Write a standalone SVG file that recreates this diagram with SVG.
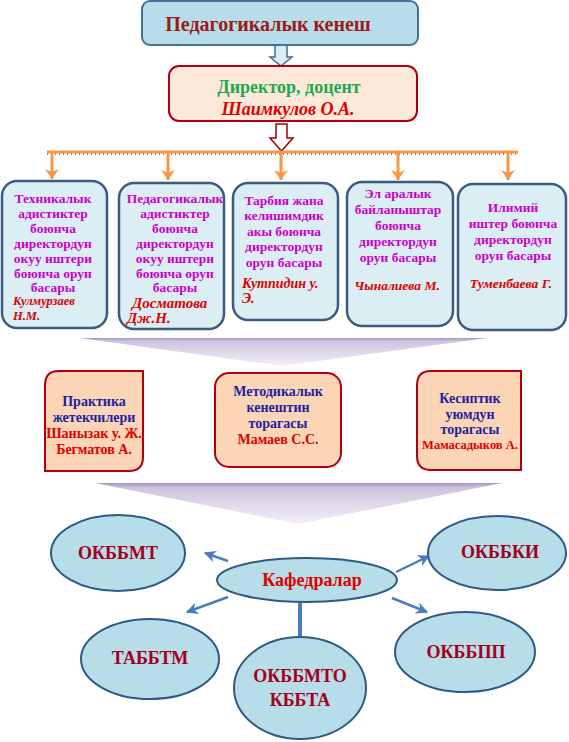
<svg xmlns="http://www.w3.org/2000/svg" width="569" height="742" viewBox="0 0 569 742">
<style>
text{font-family:"Liberation Serif","Times New Roman",serif;font-weight:bold;text-anchor:middle}
.mag{fill:#cc00cc;font-size:13.5px}
.red{fill:#e00000}
.it{font-style:italic}
.vp{fill:#dbeef4;stroke:#3d5a80;stroke-width:2.5}
.or{fill:#fbd5b5;stroke:#b00010;stroke-width:2}
.blue{fill:#1f1fa0;font-size:14px}
.ell{fill:#b7dde8;stroke:#2e5a87;stroke-width:2}
.et{fill:#a3001b;font-size:18px}
.bar{stroke:#4a7ebb;stroke-width:2.5;fill:none}
.obar{stroke:#f79646;stroke-width:3;fill:none}
</style>
<defs>
<marker id="oh" viewBox="0 0 10 14" refX="10" refY="7" markerWidth="10" markerHeight="14" markerUnits="userSpaceOnUse" orient="auto">
<path d="M0,0 L10,7 L0,14 L3,7 Z" fill="#f79646"/>
</marker>
<marker id="bh" viewBox="0 0 10 10" refX="9" refY="5" markerWidth="12" markerHeight="12" markerUnits="userSpaceOnUse" orient="auto">
<path d="M0,0 L10,5 L0,10 L3,5 Z" fill="#4a7ebb"/>
</marker>
<linearGradient id="chev" x1="0" y1="0" x2="0" y2="1">
<stop offset="0" stop-color="#a898c6"/>
<stop offset="0.12" stop-color="#cfc4e0"/>
<stop offset="1" stop-color="#f4f0f8"/>
</linearGradient>
</defs>

<g id="connectors">
<path d="M275,45 H287 V57 H292 L281,66 L270,57 H275 Z" fill="#dbeef4" stroke="#3d6fa0" stroke-width="1.5"/>
<path d="M276,124 H287 V138 H293 L281.5,151 L270,138 H276 Z" fill="#fff" stroke="#a00000" stroke-width="1.5"/>
<line x1="47" y1="154" x2="518" y2="154" stroke="#000" stroke-width="1" stroke-dasharray="1,3"/>
<line class="obar" x1="47" y1="152" x2="518" y2="152"/>
<line class="obar" x1="52" y1="152" x2="52" y2="179" marker-end="url(#oh)"/>
<line class="obar" x1="168" y1="152" x2="168" y2="180" marker-end="url(#oh)"/>
<line class="obar" x1="281" y1="152" x2="281" y2="180" marker-end="url(#oh)"/>
<line class="obar" x1="398" y1="152" x2="398" y2="180" marker-end="url(#oh)"/>
<line class="obar" x1="508" y1="152" x2="508" y2="180" marker-end="url(#oh)"/>
<polygon points="80,338 487,338 282,366" fill="url(#chev)"/>
<polygon points="95,483 502,483 298,524" fill="url(#chev)"/>
<line class="bar" x1="228" y1="561" x2="205" y2="553" marker-end="url(#bh)"/>
<line class="bar" x1="396" y1="572" x2="429" y2="556" marker-end="url(#bh)"/>
<line class="bar" x1="228" y1="597" x2="187" y2="612" marker-end="url(#bh)"/>
<line class="bar" x1="392" y1="598" x2="427" y2="612" marker-end="url(#bh)"/>
<line x1="300" y1="602" x2="300" y2="637" stroke="#4a7ebb" stroke-width="4"/>
</g>

<g id="pedkenesh">
<rect x="142" y="1" width="276" height="44" rx="8" fill="#b7dde8" stroke="#41719c" stroke-width="2"/>
<text x="268" y="31" font-size="20" fill="#9b1b1b">Педагогикалык кенеш</text>
</g>

<g id="director">
<rect x="169" y="66" width="248" height="55" rx="10" fill="#fde9d9" stroke="#b00010" stroke-width="2"/>
<text x="289" y="93" font-size="18" fill="#1fa850">Директор, доцент</text>
<text x="288" y="115" font-size="18" class="red it">Шаимкулов О.А.</text>
</g>

<g id="box1">
<rect class="vp" x="2" y="181" width="105" height="147" rx="15"/>
<text class="mag"><tspan x="53" y="203">Техникалык</tspan><tspan x="53" y="218">адистиктер</tspan><tspan x="53" y="233">боюнча</tspan><tspan x="53" y="248">директордун</tspan><tspan x="53" y="263">окуу иштери</tspan><tspan x="53" y="278">боюнча орун</tspan><tspan x="53" y="292">басары</tspan></text>
<text class="red it" font-size="12.5" style="text-anchor:start"><tspan x="13" y="305">Кулмурзаев</tspan><tspan x="13" y="320">Н.М.</tspan></text>
</g>

<g id="box2">
<rect class="vp" x="119" y="183" width="105" height="146" rx="15"/>
<text class="mag"><tspan x="175" y="203">Педагогикалык</tspan><tspan x="175" y="218">адистиктер</tspan><tspan x="175" y="233">боюнча</tspan><tspan x="175" y="248">директордун</tspan><tspan x="175" y="263">окуу иштери</tspan><tspan x="175" y="278">боюнча орун</tspan><tspan x="175" y="292">басары</tspan></text>
<text class="red it" font-size="15" style="text-anchor:start"><tspan x="132" y="308">Досматова</tspan><tspan x="127" y="323">Дж.Н.</tspan></text>
</g>

<g id="box3">
<rect class="vp" x="233" y="183" width="105" height="137" rx="15"/>
<text class="mag" font-size="14"><tspan x="284" y="205">Тарбия жана</tspan><tspan x="284" y="220">келишимдик</tspan><tspan x="284" y="236">акы боюнча</tspan><tspan x="284" y="251">директордун</tspan><tspan x="284" y="267">орун басары</tspan></text>
<text class="red it" font-size="14" style="text-anchor:start"><tspan x="242" y="288">Кутпидин у.</tspan><tspan x="242" y="303">Э.</tspan></text>
</g>

<g id="box4">
<rect class="vp" x="347" y="182" width="106" height="144" rx="15"/>
<text class="mag" font-size="14"><tspan x="398" y="198">Эл аралык</tspan><tspan x="398" y="214">байланыштар</tspan><tspan x="398" y="230">боюнча</tspan><tspan x="398" y="246">директордун</tspan><tspan x="398" y="262">орун басары</tspan></text>
<text class="red it" font-size="13.5" x="397" y="290">Чыналиева М.</text>
</g>

<g id="box5">
<rect class="vp" x="458" y="184" width="108" height="146" rx="15"/>
<text class="mag" font-size="14"><tspan x="513" y="212">Илимий</tspan><tspan x="513" y="228">иштер боюнча</tspan><tspan x="513" y="244">директордун</tspan><tspan x="513" y="260">орун басары</tspan></text>
<text class="red it" font-size="13.5" x="511" y="288">Туменбаева Г.</text>
</g>

<g id="praktika">
<path class="or" d="M59,371 H143 V457 Q143,471 129,471 H45 V385 Q45,371 59,371 Z"/>
<text class="blue"><tspan x="94" y="406">Практика</tspan><tspan x="94" y="422">жетекчилери</tspan></text>
<text class="red" font-size="14"><tspan x="94" y="438">Шанызак у. Ж.</tspan><tspan x="94" y="454">Бегматов А.</tspan></text>
</g>

<g id="metod">
<rect class="or" x="215" y="373" width="126" height="94" rx="14"/>
<text class="blue"><tspan x="278" y="396">Методикалык</tspan><tspan x="278" y="412">кенештин</tspan><tspan x="278" y="428">торагасы</tspan></text>
<text class="red" font-size="14" x="278" y="444">Мамаев С.С.</text>
</g>

<g id="kesiptik">
<path class="or" d="M431,371 H521 V470 H431 Q417,470 417,456 V385 Q417,371 431,371 Z"/>
<text class="blue"><tspan x="470" y="403">Кесиптик</tspan><tspan x="470" y="419">уюмдун</tspan><tspan x="470" y="434">торагасы</tspan></text>
<text class="red" font-size="12.5" x="470" y="449">Мамасадыков А.</text>
</g>

<g id="okbbmt">
<ellipse class="ell" cx="118" cy="553" rx="67" ry="38"/>
<text class="et" x="118" y="559">ОКББМТ</text>
</g>
<g id="okbbki">
<ellipse class="ell" cx="497" cy="553" rx="69" ry="37"/>
<text class="et" x="500" y="558">ОКББКИ</text>
</g>
<g id="kafedralar">
<ellipse class="ell" cx="307" cy="580" rx="90" ry="22"/>
<text x="312" y="586" font-size="18" class="red">Кафедралар</text>
</g>
<g id="tabbtm">
<ellipse class="ell" cx="150" cy="659" rx="69" ry="40"/>
<text class="et" x="150" y="664">ТАББТМ</text>
</g>
<g id="okbbmto">
<ellipse class="ell" cx="300" cy="688" rx="66" ry="51"/>
<text class="et"><tspan x="300" y="682">ОКББМТО</tspan><tspan x="300" y="706">КББТА</tspan></text>
</g>
<g id="okbbpp">
<ellipse class="ell" cx="465" cy="652" rx="70" ry="40"/>
<text class="et" x="466" y="658">ОКББПП</text>
</g>
</svg>
